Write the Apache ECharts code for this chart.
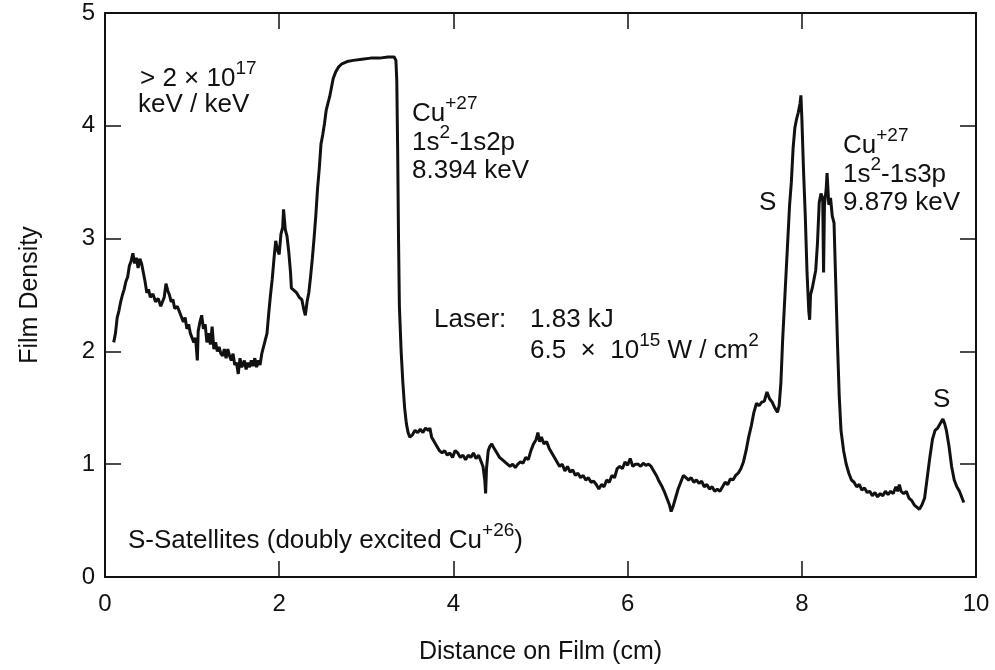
<!DOCTYPE html>
<html>
<head>
<meta charset="utf-8">
<script src="https://cdn.jsdelivr.net/npm/echarts@6/dist/echarts.min.js"></script>
<style>html,body{margin:0;padding:0;background:#fff;}#chart{width:995px;height:670px;}</style>
</head>
<body>
<div id="chart"></div>
<script>
// Distance on film (cm)
const distanceCm = [
0.10,0.12,0.14,0.16,0.18,0.20,0.22,0.24,0.26,0.28,0.30,0.32,0.34,0.36,0.38,0.40,0.42,0.44,0.46,0.48,
0.50,0.52,0.55,0.58,0.61,0.64,0.66,0.68,0.70,0.72,0.74,0.76,0.78,0.80,0.83,0.86,0.88,0.90,0.92,0.94,
0.96,0.98,1.00,1.02,1.04,1.06,1.07,1.09,1.11,1.13,1.15,1.17,1.19,1.21,1.23,1.25,1.27,1.29,1.31,1.33,
1.35,1.37,1.39,1.41,1.43,1.45,1.47,1.49,1.51,1.53,1.55,1.57,1.60,1.62,1.64,1.66,1.68,1.70,1.72,1.74,
1.76,1.78,1.80,1.82,1.84,1.86,1.88,1.90,1.92,1.94,1.96,1.98,2.00,2.02,2.04,2.05,2.07,2.09,2.11,2.13,
2.14,2.17,2.20,2.23,2.26,2.28,2.30,2.32,2.34,2.36,2.38,2.40,2.42,2.44,2.46,2.48,2.50,2.52,2.54,2.56,
2.58,2.60,2.62,2.65,2.68,2.72,2.78,2.85,2.95,3.05,3.15,3.25,3.32,3.34,3.35,3.36,3.37,3.38,3.40,3.42,
3.44,3.46,3.48,3.50,3.53,3.56,3.59,3.62,3.65,3.68,3.71,3.73,3.75,3.78,3.81,3.84,3.87,3.90,3.93,3.96,
3.99,4.02,4.05,4.08,4.11,4.14,4.17,4.20,4.23,4.26,4.29,4.32,4.34,4.36,4.37,4.38,4.40,4.42,4.44,4.46,
4.48,4.50,4.53,4.56,4.59,4.62,4.65,4.68,4.71,4.74,4.77,4.80,4.83,4.86,4.89,4.92,4.95,4.97,4.99,5.01,
5.04,5.07,5.10,5.13,5.16,5.19,5.22,5.25,5.28,5.31,5.34,5.37,5.40,5.43,5.46,5.49,5.52,5.55,5.58,5.61,
5.64,5.67,5.70,5.73,5.76,5.79,5.82,5.85,5.88,5.91,5.94,5.97,6.00,6.03,6.06,6.09,6.12,6.15,6.18,6.21,
6.24,6.27,6.30,6.33,6.36,6.39,6.42,6.45,6.48,6.50,6.52,6.55,6.58,6.61,6.64,6.67,6.70,6.73,6.76,6.79,
6.82,6.85,6.88,6.91,6.94,6.97,7.00,7.03,7.06,7.09,7.12,7.15,7.18,7.21,7.24,7.27,7.30,7.33,7.36,7.39,
7.42,7.45,7.48,7.51,7.54,7.57,7.60,7.63,7.66,7.69,7.72,7.74,7.76,7.78,7.80,7.82,7.84,7.86,7.88,7.90,
7.92,7.94,7.96,7.98,7.99,8.00,8.02,8.04,8.06,8.08,8.09,8.10,8.12,8.14,8.16,8.18,8.20,8.22,8.24,8.25,
8.26,8.28,8.29,8.31,8.33,8.35,8.37,8.39,8.41,8.43,8.45,8.48,8.51,8.54,8.57,8.60,8.63,8.66,8.69,8.72,
8.75,8.78,8.81,8.84,8.87,8.90,8.93,8.96,8.99,9.02,9.05,9.08,9.10,9.12,9.14,9.17,9.20,9.23,9.26,9.29,
9.32,9.35,9.38,9.41,9.44,9.47,9.50,9.53,9.56,9.59,9.62,9.64,9.66,9.69,9.72,9.75,9.78,9.81,9.84,9.86
];
// Film density
const filmDensity = [
2.08,2.16,2.30,2.36,2.44,2.50,2.55,2.62,2.66,2.76,2.80,2.87,2.78,2.83,2.74,2.82,2.78,2.70,2.62,2.52,
2.55,2.48,2.51,2.44,2.47,2.40,2.44,2.48,2.60,2.54,2.50,2.44,2.46,2.38,2.40,2.34,2.30,2.26,2.30,2.20,
2.24,2.16,2.12,2.08,2.12,1.92,2.18,2.26,2.32,2.20,2.24,2.08,2.16,2.06,2.22,2.02,2.08,2.00,2.04,1.98,
1.96,2.02,1.94,2.02,1.96,1.92,1.98,1.88,1.90,1.80,1.94,1.86,1.92,1.84,1.90,1.86,1.92,1.87,1.94,1.86,
1.92,1.88,1.98,2.04,2.10,2.16,2.34,2.50,2.64,2.82,2.98,2.90,2.86,3.04,3.10,3.26,3.08,3.02,2.88,2.70,
2.56,2.54,2.52,2.48,2.46,2.38,2.32,2.44,2.52,2.66,2.82,3.00,3.20,3.44,3.62,3.84,3.92,4.02,4.14,4.20,
4.26,4.34,4.42,4.48,4.52,4.55,4.57,4.58,4.59,4.60,4.60,4.61,4.61,4.58,4.40,3.80,3.00,2.40,2.00,1.72,
1.50,1.36,1.28,1.24,1.26,1.30,1.28,1.31,1.28,1.32,1.30,1.32,1.24,1.20,1.16,1.12,1.10,1.12,1.08,1.10,
1.06,1.12,1.10,1.06,1.08,1.04,1.08,1.06,1.10,1.05,1.08,1.02,0.98,0.86,0.74,0.96,1.12,1.16,1.18,1.15,
1.14,1.10,1.06,1.04,1.02,1.00,0.98,1.00,0.97,1.00,1.02,1.01,1.06,1.04,1.12,1.18,1.22,1.28,1.20,1.24,
1.18,1.20,1.14,1.10,1.06,1.02,0.98,1.00,0.94,0.98,0.93,0.95,0.90,0.92,0.88,0.90,0.86,0.88,0.84,0.85,
0.82,0.78,0.82,0.80,0.86,0.84,0.90,0.88,0.96,0.98,0.96,1.02,0.99,1.05,0.98,1.00,1.00,0.98,1.01,0.99,
1.00,0.98,0.94,0.90,0.85,0.81,0.76,0.70,0.64,0.58,0.62,0.70,0.78,0.84,0.90,0.88,0.86,0.88,0.84,0.86,
0.83,0.85,0.80,0.82,0.78,0.80,0.76,0.78,0.76,0.80,0.84,0.82,0.87,0.86,0.90,0.92,0.96,1.02,1.12,1.24,
1.34,1.46,1.54,1.52,1.55,1.56,1.64,1.58,1.55,1.50,1.46,1.52,1.72,2.10,2.40,2.70,3.00,3.30,3.50,3.80,
3.98,4.06,4.12,4.20,4.27,4.08,3.60,3.20,2.70,2.36,2.28,2.50,2.56,2.64,2.72,2.96,3.32,3.40,3.36,2.70,
3.30,3.44,3.58,3.30,3.36,3.20,3.14,2.60,2.06,1.60,1.30,1.12,1.00,0.92,0.86,0.84,0.80,0.82,0.77,0.79,
0.75,0.76,0.72,0.75,0.71,0.74,0.72,0.76,0.73,0.76,0.74,0.80,0.76,0.82,0.76,0.74,0.76,0.70,0.68,0.64,
0.62,0.60,0.64,0.70,0.88,1.06,1.22,1.30,1.32,1.36,1.40,1.36,1.30,1.16,0.98,0.86,0.80,0.76,0.70,0.66
];
const xTickLabels = ['0','2','4','6','8','10'];
const yTickLabels = ['0','1','2','3','4','5'];

const trace = distanceCm.map((x, i) => [x, filmDensity[i]]);
const INK = '#111';
const FONT = '"Liberation Sans", Arial, Helvetica, sans-serif';
const sup = { fontSize: 19, fontFamily: FONT, color: INK, lineHeight: 19, verticalAlign: 'top' };

function label(x, y, text) {
  return {
    type: 'text', left: x, top: y, z: 10,
    style: {
      text: text, fill: INK, font: '26px ' + FONT, lineHeight: 40,
      rich: { sup: sup, n: { fontSize: 26, fontFamily: FONT, color: INK, lineHeight: 40 } }
    }
  };
}

const chart = echarts.init(document.getElementById('chart'), null, { renderer: 'canvas' });
const axisCommon = {
  type: 'value', min: 0,
  axisLine: { show: true, onZero: false, lineStyle: { color: INK, width: 2 } },
  axisTick: { show: true, inside: true, length: 16, lineStyle: { color: INK, width: 1.5 } },
  splitLine: { show: false }
};
chart.setOption({
  animation: false,
  backgroundColor: '#fff',
  grid: { left: 105, right: 19, top: 13, bottom: 92 },
  xAxis: [
    Object.assign({}, axisCommon, {
      max: 10, interval: 2, position: 'bottom',
      axisLabel: { color: INK, fontSize: 24, fontFamily: FONT, margin: 15,
        formatter: v => xTickLabels[Math.round(v / 2)] },
      name: 'Distance on Film (cm)', nameLocation: 'middle', nameGap: 63,
      nameTextStyle: { color: INK, fontSize: 25, fontFamily: FONT }
    }),
    Object.assign({}, axisCommon, {
      max: 10, interval: 2, position: 'top', axisLabel: { show: false }
    })
  ],
  yAxis: [
    Object.assign({}, axisCommon, {
      max: 5, interval: 1, position: 'left',
      axisLabel: { color: INK, fontSize: 24, fontFamily: FONT, margin: 10,
        formatter: v => yTickLabels[Math.round(v)] },
      name: 'Film Density', nameLocation: 'middle', nameGap: 62,
      nameTextStyle: { color: INK, fontSize: 25, fontFamily: FONT }
    }),
    Object.assign({}, axisCommon, {
      max: 5, interval: 1, position: 'right', axisLabel: { show: false }
    })
  ],
  series: [{
    type: 'line', data: trace, showSymbol: false, symbol: 'none',
    lineStyle: { color: INK, width: 3 }, z: 5
  }],
  graphic: [
    label(140, 59, '{n|> 2 × 10}{sup|17}'),
    label(138, 85, '{n|keV / keV}'),
    label(412, 94, '{n|Cu}{sup|+27}'),
    label(412, 123, '{n|1s}{sup|2}{n|-1s2p}'),
    label(412, 151, '{n|8.394 keV}'),
    label(843, 126, '{n|Cu}{sup|+27}'),
    label(843, 155, '{n|1s}{sup|2}{n|-1s3p}'),
    label(843, 183, '{n|9.879 keV}'),
    label(759, 183, '{n|S}'),
    label(933, 380, '{n|S}'),
    label(434, 300, '{n|Laser:}'),
    label(530, 300, '{n|1.83 kJ}'),
    label(530, 331, '{n|6.5  ×  10}{sup|15}{n| W / cm}{sup|2}'),
    label(128, 521, '{n|S-Satellites (doubly excited Cu}{sup|+26}{n|)}')
  ]
});
</script>
</body>
</html>
